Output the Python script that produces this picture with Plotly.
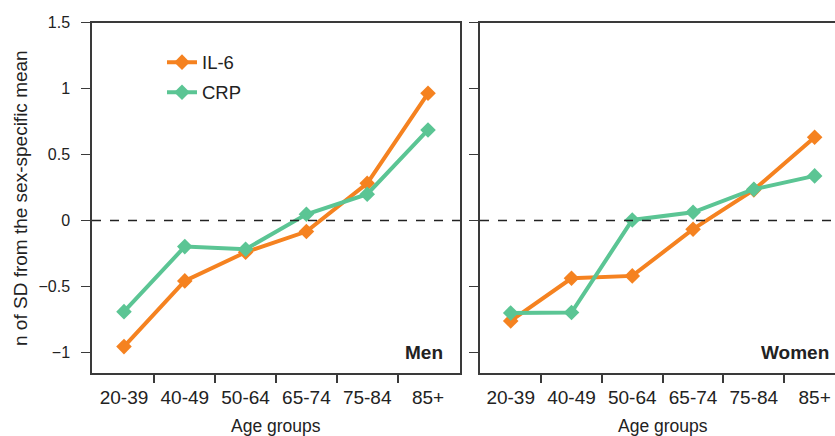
import plotly.graph_objects as go

age_groups = ["20-39", "40-49", "50-64", "65-74", "75-84", "85+"]
men_il6 = [-0.955, -0.457, -0.24, -0.083, 0.283, 0.965]
men_crp = [-0.69, -0.197, -0.217, 0.048, 0.20, 0.687]
women_il6 = [-0.76, -0.437, -0.419, -0.065, 0.233, 0.632]
women_crp = [-0.70, -0.697, 0.005, 0.063, 0.238, 0.339]
y_ticks = [-1, -0.5, 0, 0.5, 1, 1.5]
y_ticktext = ["\u22121", "\u22120.5", "0", "0.5", "1", "1.5"]

ORANGE = "#F58220"
GREEN = "#5BC594"
AX = "#3a3a3a"
TXT = "#222222"
FONT = "Liberation Sans, Arial, sans-serif"

xi = list(range(len(age_groups)))
bounds = [i + 0.5 for i in xi[:-1]]

fig = go.Figure()
for xa, ya, il6, crp, show in [("x", "y", men_il6, men_crp, True),
                               ("x2", "y2", women_il6, women_crp, False)]:
    fig.add_trace(go.Scatter(x=xi, y=il6, xaxis=xa, yaxis=ya, name="IL-6",
                             legendgroup="il6", mode="lines+markers", showlegend=show,
                             line=dict(color=ORANGE, width=4),
                             marker=dict(symbol="diamond", size=12, color=ORANGE)))
    fig.add_trace(go.Scatter(x=xi, y=crp, xaxis=xa, yaxis=ya, name="CRP",
                             legendgroup="crp", mode="lines+markers", showlegend=show,
                             line=dict(color=GREEN, width=4),
                             marker=dict(symbol="diamond", size=12, color=GREEN)))

W, H = 835, 436
ydom = [(H - 373) / H, (H - 22.7) / H]
yr = [-1.155, 1.5]

xcommon = dict(tickmode="array", tickvals=xi, ticktext=age_groups,
               ticks="outside", ticklen=6, tickcolor="rgba(0,0,0,0)",
               ticklabelstandoff=0,
               showline=True, linecolor=AX, linewidth=1.5, mirror=True,
               showgrid=False, zeroline=False, automargin=False,
               tickfont=dict(size=19, color=TXT, family=FONT),
               minor=dict(tickmode="array", tickvals=bounds, ticks="outside",
                          ticklen=8, tickcolor=AX, tickwidth=1.5, showgrid=False))
ycommon = dict(range=yr, domain=ydom, tickmode="array", tickvals=y_ticks,
               ticks="outside", ticklen=9, tickcolor=AX, tickwidth=1.2,
               showline=True, linecolor=AX, linewidth=1.5,
               showgrid=False, zeroline=False, automargin=False,
               tickfont=dict(size=16, color=TXT, family=FONT))

fig.update_layout(
    width=W, height=H,
    margin=dict(l=0, r=0, t=0, b=0),
    paper_bgcolor="white", plot_bgcolor="white",
    font=dict(family=FONT, color=TXT),
    xaxis=dict(domain=[92 / W, 460 / W], range=[-0.526, 5.526], anchor="y", **xcommon),
    xaxis2=dict(domain=[480 / W, 1.0], range=[-0.505, 5.335], anchor="y2", **xcommon),
    yaxis=dict(ticktext=y_ticktext, mirror=True, anchor="x",
               ticklabelstandoff=8, **ycommon),
    yaxis2=dict(ticktext=[""] * len(y_ticks), anchor="x2", mirror=False, **ycommon),
    legend=dict(x=0.194, y=0.9, xanchor="left", yanchor="top",
                traceorder="grouped", tracegroupgap=3,
                bgcolor="rgba(0,0,0,0)", font=dict(size=18.5, color=TXT, family=FONT)),
    showlegend=True,
)

# dashed zero lines
for xr, yref in [("x domain", "y"), ("x2 domain", "y2")]:
    fig.add_shape(type="line", xref=xr, yref=yref, x0=0, x1=1, y0=0, y1=0,
                  line=dict(color=TXT, width=1.5, dash="dash"))

# y axis title
fig.add_annotation(text="n of SD from the sex-specific mean", textangle=-90,
                   xref="paper", yref="paper", x=20 / W, y=(H - 198) / H,
                   xanchor="center", yanchor="middle", showarrow=False,
                   font=dict(size=19, color=TXT, family=FONT))

# panel labels
fig.add_annotation(text="<b>Men</b>", xref="paper", yref="y", x=445 / W, y=-1.0,
                   xanchor="right", yanchor="middle", showarrow=False,
                   font=dict(size=19, color=TXT, family=FONT))
fig.add_annotation(text="<b>Women</b>", xref="paper", yref="y2", x=831 / W, y=-1.0,
                   xanchor="right", yanchor="middle", showarrow=False,
                   font=dict(size=19, color=TXT, family=FONT))
# x titles
for xr in ["x", "x2"]:
    fig.add_annotation(text="Age groups", xref=xr, yref="paper", x=2.5, y=(H - 414) / H,
                       xanchor="center", yanchor="top", showarrow=False,
                       font=dict(size=17.5, color=TXT, family=FONT))

fig.write_html("out.html", config={"displayModeBar": False},
               post_script="document.body.style.margin='0px';")
